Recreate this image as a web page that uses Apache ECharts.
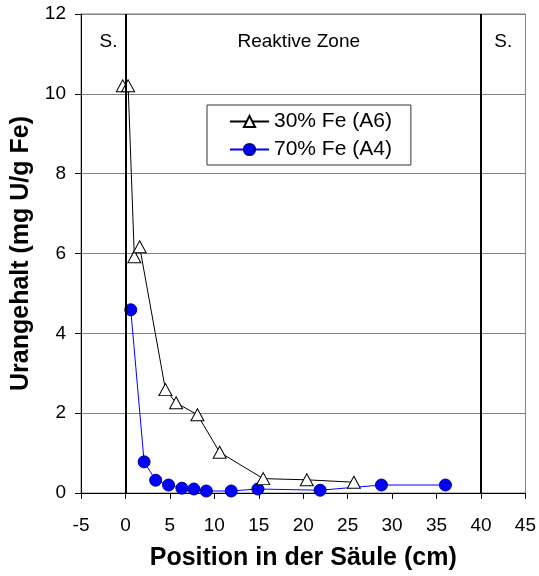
<!DOCTYPE html>
<html><head><meta charset="utf-8">
<script src="https://cdn.jsdelivr.net/npm/echarts@6/dist/echarts.min.js"></script>
<style>html,body{margin:0;padding:0;background:#fff}#c{width:539px;height:576px}</style>
</head><body><div id="c"></div>
<script>
const seriesA6Name = '30% Fe (A6)';
const seriesA6X = [-0.3, 0.3, 1.0, 1.6, 4.5, 5.7, 8.1, 10.6, 15.5, 20.4, 25.7];
const seriesA6Y = [10.2, 10.2, 5.92, 6.17, 2.59, 2.26, 1.96, 1.02, 0.36, 0.33, 0.27];
const seriesA4Name = '70% Fe (A4)';
const seriesA4X = [0.6, 2.1, 3.4, 4.85, 6.35, 7.7, 9.1, 11.9, 14.9, 21.9, 28.8, 36.0];
const seriesA4Y = [4.59, 0.78, 0.32, 0.2, 0.12, 0.1, 0.05, 0.05, 0.1, 0.07, 0.2, 0.2];
const zoneBoundaries = [0, 40];
const zoneLabels = ['S.', 'Reaktive Zone', 'S.'];
const xAxisTitle = 'Position in der Säule (cm)';
const yAxisTitle = 'Urangehalt (mg U/g Fe)';

const FONT = '"Liberation Sans", Arial, sans-serif';
const pairs = (xs, ys) => xs.map((x, i) => [x, ys[i]]);

// annotation anchor points (data space)
const zoneLabelCoords = [[-1.9, 11.3], [19.5, 11.3], [42.5, 11.3]];

const chart = echarts.init(document.getElementById('c'), null, {renderer: 'canvas'});
chart.setOption({
  animation: false,
  backgroundColor: '#fff',
  grid: {left: 81, right: 13, top: 14, bottom: 79, show: true, borderColor: '#808080', borderWidth: 1, backgroundColor: 'transparent'},
  legend: {
    orient: 'vertical', left: 207, top: 105,
    padding: [6, 19, 5, 22], itemGap: 7, itemWidth: 39, itemHeight: 14,
    borderColor: '#333', borderWidth: 1, backgroundColor: '#fff', borderRadius: 0,
    textStyle: {fontSize: 21, fontFamily: FONT, color: '#000', lineHeight: 20},
    data: [seriesA6Name, seriesA4Name]
  },
  xAxis: {
    type: 'value', min: -5, max: 45, interval: 5,
    axisLine: {show: true, onZero: false, lineStyle: {color: '#000', width: 1}},
    axisTick: {show: true, length: 6, lineStyle: {color: '#000'}},
    axisLabel: {fontSize: 19, color: '#000', fontFamily: FONT, margin: 23},
    splitLine: {show: false},
    name: xAxisTitle, nameLocation: 'middle', nameGap: 53,
    nameTextStyle: {fontSize: 25, fontWeight: 'bold', fontFamily: FONT, color: '#000'}
  },
  yAxis: {
    type: 'value', min: 0, max: 12, interval: 2,
    axisLine: {show: true, onZero: false, lineStyle: {color: '#000', width: 1}},
    axisTick: {show: true, length: 6, lineStyle: {color: '#000'}},
    axisLabel: {fontSize: 19, color: '#000', fontFamily: FONT, margin: 15},
    splitLine: {show: true, lineStyle: {color: '#808080', width: 1}},
    name: yAxisTitle, nameLocation: 'middle', nameGap: 45,
    nameTextStyle: {fontSize: 25, fontWeight: 'bold', fontFamily: FONT, color: '#000'}
  },
  series: [
    {
      name: seriesA4Name, type: 'line', data: pairs(seriesA4X, seriesA4Y),
      symbol: 'circle', symbolSize: 12,
      itemStyle: {color: '#0000ff', borderColor: '#000090', borderWidth: 1},
      lineStyle: {color: '#0000ff', width: 1},
      z: 3
    },
    {
      name: seriesA6Name, type: 'line', data: pairs(seriesA6X, seriesA6Y),
      symbol: 'triangle', symbolSize: [13, 12],
      itemStyle: {color: '#fff', borderColor: '#000', borderWidth: 1},
      lineStyle: {color: '#000', width: 1},
      z: 3
    },
    {
      name: 'zones', type: 'line', data: [], z: 4, silent: true,
      markLine: {
        silent: true, symbol: 'none', animation: false,
        label: {show: false},
        lineStyle: {color: '#000', width: 2, type: 'solid'},
        data: zoneBoundaries.map(v => ({xAxis: v}))
      },
      markPoint: {
        silent: true, animation: false,
        data: zoneLabels.map((t, i) => ({
          coord: zoneLabelCoords[i], symbol: 'circle', symbolSize: 1,
          itemStyle: {color: 'rgba(0,0,0,0)'},
          label: {show: true, position: 'inside', formatter: t, fontSize: 19, fontFamily: FONT, color: '#000'}
        }))
      }
    }
  ]
});
</script></body></html>
